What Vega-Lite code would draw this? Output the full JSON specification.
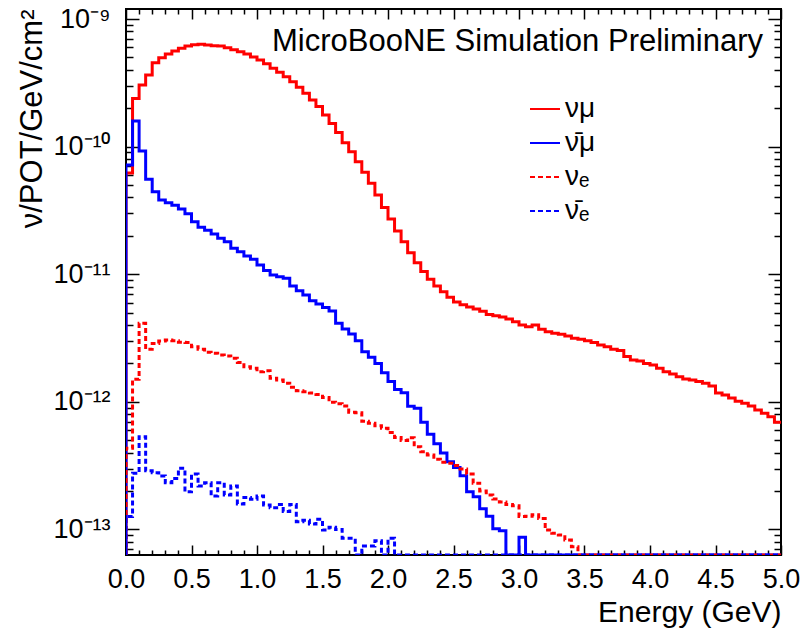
{
  "$schema": "https://vega.github.io/schema/vega-lite/v6.json",
  "width": 655,
  "height": 546,
  "autosize": {"type": "none"},
  "padding": {"left": 126, "top": 9, "right": 20, "bottom": 78},
  "background": "white",
  "config": {
    "font": "Liberation Sans",
    "view": {"stroke": "#000", "strokeWidth": 2},
    "axis": {"labelFont": "Liberation Sans", "titleFont": "Liberation Sans", "labelColor": "#000", "titleColor": "#000", "tickColor": "#000", "tickWidth": 1.5, "domain": false, "grid": false, "titleFontWeight": "normal", "labelOverlap": false, "labelBound": false}
  },
  "title": {"text": "MicroBooNE Simulation Preliminary", "orient": "top", "anchor": "end", "frame": "group", "offset": -77, "baseline": "alphabetic", "dx": -18, "fontSize": 31, "fontWeight": "normal", "font": "Liberation Sans", "color": "#000"},
  "data": {"values": [
    {"E":0,"numu":6.3e-14,"numubar":6.3e-14,"nue":6.3e-14,"nuebar":6.3e-14},
    {"E":0,"numu":6.21e-11,"numubar":7.17e-11,"nue":4.32e-13,"nuebar":1.26e-13},
    {"E":0.05,"numu":2.38e-10,"numubar":1.59e-10,"nue":1.50e-12,"nuebar":2.75e-13},
    {"E":0.1,"numu":3.04e-10,"numubar":9.24e-11,"nue":4.12e-12,"nuebar":5.33e-13},
    {"E":0.15,"numu":3.64e-10,"numubar":5.54e-11,"nue":2.58e-12,"nuebar":2.88e-13},
    {"E":0.2,"numu":4.55e-10,"numubar":4.43e-11,"nue":2.87e-12,"nuebar":2.78e-13},
    {"E":0.25,"numu":4.97e-10,"numubar":3.82e-11,"nue":3.00e-12,"nuebar":2.62e-13},
    {"E":0.3,"numu":5.32e-10,"numubar":3.63e-11,"nue":3.05e-12,"nuebar":2.32e-13},
    {"E":0.35,"numu":5.61e-10,"numubar":3.47e-11,"nue":3.01e-12,"nuebar":2.51e-13},
    {"E":0.4,"numu":5.89e-10,"numubar":3.24e-11,"nue":2.93e-12,"nuebar":3.01e-13},
    {"E":0.45,"numu":6.14e-10,"numubar":2.98e-11,"nue":2.91e-12,"nuebar":1.97e-13},
    {"E":0.5,"numu":6.29e-10,"numubar":2.58e-11,"nue":2.70e-12,"nuebar":2.72e-13},
    {"E":0.55,"numu":6.33e-10,"numubar":2.33e-11,"nue":2.58e-12,"nuebar":2.19e-13},
    {"E":0.6,"numu":6.25e-10,"numubar":2.21e-11,"nue":2.44e-12,"nuebar":2.32e-13},
    {"E":0.65,"numu":6.18e-10,"numubar":2.07e-11,"nue":2.40e-12,"nuebar":1.83e-13},
    {"E":0.7,"numu":6.14e-10,"numubar":1.91e-11,"nue":2.33e-12,"nuebar":2.32e-13},
    {"E":0.75,"numu":5.96e-10,"numubar":1.80e-11,"nue":2.29e-12,"nuebar":1.86e-13},
    {"E":0.8,"numu":5.75e-10,"numubar":1.60e-11,"nue":2.19e-12,"nuebar":2.19e-13},
    {"E":0.85,"numu":5.54e-10,"numubar":1.50e-11,"nue":2.03e-12,"nuebar":1.58e-13},
    {"E":0.9,"numu":5.32e-10,"numubar":1.39e-11,"nue":1.88e-12,"nuebar":1.78e-13},
    {"E":0.95,"numu":5.04e-10,"numubar":1.31e-11,"nue":1.83e-12,"nuebar":1.72e-13},
    {"E":1.0,"numu":4.77e-10,"numubar":1.18e-11,"nue":1.72e-12,"nuebar":1.83e-13},
    {"E":1.05,"numu":4.46e-10,"numubar":1.07e-11,"nue":1.75e-12,"nuebar":1.55e-13},
    {"E":1.1,"numu":4.11e-10,"numubar":9.86e-12,"nue":1.53e-12,"nuebar":1.48e-13},
    {"E":1.15,"numu":3.82e-10,"numubar":9.56e-12,"nue":1.48e-12,"nuebar":1.57e-13},
    {"E":1.2,"numu":3.53e-10,"numubar":9.29e-12,"nue":1.40e-12,"nuebar":1.38e-13},
    {"E":1.25,"numu":3.23e-10,"numubar":8.08e-12,"nue":1.30e-12,"nuebar":1.57e-13},
    {"E":1.3,"numu":2.92e-10,"numubar":7.43e-12,"nue":1.22e-12,"nuebar":1.15e-13},
    {"E":1.35,"numu":2.62e-10,"numubar":6.87e-12,"nue":1.20e-12,"nuebar":1.18e-13},
    {"E":1.4,"numu":2.32e-10,"numubar":6.20e-12,"nue":1.17e-12,"nuebar":1.10e-13},
    {"E":1.45,"numu":2.06e-10,"numubar":5.84e-12,"nue":1.14e-12,"nuebar":1.20e-13},
    {"E":1.5,"numu":1.77e-10,"numubar":5.48e-12,"nue":1.08e-12,"nuebar":9.89e-14},
    {"E":1.55,"numu":1.52e-10,"numubar":5.15e-12,"nue":9.93e-13,"nuebar":1.04e-13},
    {"E":1.6,"numu":1.29e-10,"numubar":4.12e-12,"nue":9.66e-13,"nuebar":1.00e-13},
    {"E":1.65,"numu":1.07e-10,"numubar":3.72e-12,"nue":9.27e-13,"nuebar":8.51e-14},
    {"E":1.7,"numu":9.12e-11,"numubar":3.40e-12,"nue":8.29e-13,"nuebar":8.51e-14},
    {"E":1.75,"numu":7.61e-11,"numubar":3.01e-12,"nue":8.22e-13,"nuebar":6.3e-14},
    {"E":1.8,"numu":6.29e-11,"numubar":2.47e-12,"nue":7.05e-13,"nuebar":7.41e-14},
    {"E":1.85,"numu":5.16e-11,"numubar":2.23e-12,"nue":6.79e-13,"nuebar":7.41e-14},
    {"E":1.9,"numu":4.18e-11,"numubar":2.00e-12,"nue":6.50e-13,"nuebar":8.16e-14},
    {"E":1.95,"numu":3.34e-11,"numubar":1.69e-12,"nue":6.20e-13,"nuebar":6.3e-14},
    {"E":2.0,"numu":2.71e-11,"numubar":1.44e-12,"nue":5.75e-13,"nuebar":8.51e-14},
    {"E":2.05,"numu":2.18e-11,"numubar":1.25e-12,"nue":5.25e-13,"nuebar":6.3e-14},
    {"E":2.1,"numu":1.80e-11,"numubar":1.18e-12,"nue":4.97e-13,"nuebar":6.3e-14},
    {"E":2.15,"numu":1.47e-11,"numubar":9.22e-13,"nue":5.23e-13,"nuebar":6.3e-14},
    {"E":2.2,"numu":1.23e-11,"numubar":8.89e-13,"nue":4.45e-13,"nuebar":6.3e-14},
    {"E":2.25,"numu":1.05e-11,"numubar":6.92e-13,"nue":4.06e-13,"nuebar":6.3e-14},
    {"E":2.3,"numu":9.12e-12,"numubar":5.57e-13,"nue":3.83e-13,"nuebar":6.3e-14},
    {"E":2.35,"numu":8.08e-12,"numubar":4.69e-13,"nue":3.54e-13,"nuebar":6.3e-14},
    {"E":2.4,"numu":7.29e-12,"numubar":3.97e-13,"nue":3.36e-13,"nuebar":6.3e-14},
    {"E":2.45,"numu":6.59e-12,"numubar":3.39e-13,"nue":3.30e-13,"nuebar":6.3e-14},
    {"E":2.5,"numu":6.05e-12,"numubar":3.06e-13,"nue":3.17e-13,"nuebar":6.3e-14},
    {"E":2.55,"numu":5.77e-12,"numubar":2.63e-13,"nue":2.97e-13,"nuebar":6.3e-14},
    {"E":2.6,"numu":5.53e-12,"numubar":1.97e-13,"nue":2.72e-13,"nuebar":6.3e-14},
    {"E":2.65,"numu":5.34e-12,"numubar":1.80e-13,"nue":2.30e-13,"nuebar":6.3e-14},
    {"E":2.7,"numu":5.12e-12,"numubar":1.45e-13,"nue":2.00e-13,"nuebar":6.3e-14},
    {"E":2.75,"numu":4.83e-12,"numubar":1.27e-13,"nue":1.86e-13,"nuebar":6.3e-14},
    {"E":2.8,"numu":4.73e-12,"numubar":1.01e-13,"nue":1.73e-13,"nuebar":6.3e-14},
    {"E":2.85,"numu":4.62e-12,"numubar":9.77e-14,"nue":1.64e-13,"nuebar":6.3e-14},
    {"E":2.9,"numu":4.46e-12,"numubar":6.3e-14,"nue":1.57e-13,"nuebar":6.3e-14},
    {"E":2.95,"numu":4.24e-12,"numubar":6.3e-14,"nue":1.53e-13,"nuebar":6.3e-14},
    {"E":3.0,"numu":4.00e-12,"numubar":8.67e-14,"nue":1.26e-13,"nuebar":6.3e-14},
    {"E":3.05,"numu":3.88e-12,"numubar":6.3e-14,"nue":1.27e-13,"nuebar":6.3e-14},
    {"E":3.1,"numu":4.00e-12,"numubar":6.3e-14,"nue":1.30e-13,"nuebar":6.3e-14},
    {"E":3.15,"numu":3.70e-12,"numubar":6.3e-14,"nue":1.22e-13,"nuebar":6.3e-14},
    {"E":3.2,"numu":3.54e-12,"numubar":6.3e-14,"nue":9.89e-14,"nuebar":6.3e-14},
    {"E":3.25,"numu":3.44e-12,"numubar":6.3e-14,"nue":9.32e-14,"nuebar":6.3e-14},
    {"E":3.3,"numu":3.38e-12,"numubar":6.3e-14,"nue":9.04e-14,"nuebar":6.3e-14},
    {"E":3.35,"numu":3.28e-12,"numubar":6.3e-14,"nue":8.26e-14,"nuebar":6.3e-14},
    {"E":3.4,"numu":3.15e-12,"numubar":6.3e-14,"nue":7.32e-14,"nuebar":6.3e-14},
    {"E":3.45,"numu":3.09e-12,"numubar":6.3e-14,"nue":6.3e-14,"nuebar":6.3e-14},
    {"E":3.5,"numu":3.01e-12,"numubar":6.3e-14,"nue":6.3e-14,"nuebar":6.3e-14},
    {"E":3.55,"numu":2.91e-12,"numubar":6.3e-14,"nue":6.3e-14,"nuebar":6.3e-14},
    {"E":3.6,"numu":2.79e-12,"numubar":6.3e-14,"nue":6.3e-14,"nuebar":6.3e-14},
    {"E":3.65,"numu":2.70e-12,"numubar":6.3e-14,"nue":6.3e-14,"nuebar":6.3e-14},
    {"E":3.7,"numu":2.58e-12,"numubar":6.3e-14,"nue":6.3e-14,"nuebar":6.3e-14},
    {"E":3.75,"numu":2.52e-12,"numubar":6.3e-14,"nue":6.3e-14,"nuebar":6.3e-14},
    {"E":3.8,"numu":2.26e-12,"numubar":6.3e-14,"nue":6.3e-14,"nuebar":6.3e-14},
    {"E":3.85,"numu":2.13e-12,"numubar":6.3e-14,"nue":6.3e-14,"nuebar":6.3e-14},
    {"E":3.9,"numu":2.09e-12,"numubar":6.3e-14,"nue":6.3e-14,"nuebar":6.3e-14},
    {"E":3.95,"numu":2.00e-12,"numubar":6.3e-14,"nue":6.3e-14,"nuebar":6.3e-14},
    {"E":4.0,"numu":1.94e-12,"numubar":6.3e-14,"nue":6.3e-14,"nuebar":6.3e-14},
    {"E":4.05,"numu":1.83e-12,"numubar":6.3e-14,"nue":6.3e-14,"nuebar":6.3e-14},
    {"E":4.1,"numu":1.72e-12,"numubar":6.3e-14,"nue":6.3e-14,"nuebar":6.3e-14},
    {"E":4.15,"numu":1.65e-12,"numubar":6.3e-14,"nue":6.3e-14,"nuebar":6.3e-14},
    {"E":4.2,"numu":1.57e-12,"numubar":6.3e-14,"nue":6.3e-14,"nuebar":6.3e-14},
    {"E":4.25,"numu":1.51e-12,"numubar":6.3e-14,"nue":6.3e-14,"nuebar":6.3e-14},
    {"E":4.3,"numu":1.48e-12,"numubar":6.3e-14,"nue":6.3e-14,"nuebar":6.3e-14},
    {"E":4.35,"numu":1.44e-12,"numubar":6.3e-14,"nue":6.3e-14,"nuebar":6.3e-14},
    {"E":4.4,"numu":1.40e-12,"numubar":6.3e-14,"nue":6.3e-14,"nuebar":6.3e-14},
    {"E":4.45,"numu":1.33e-12,"numubar":6.3e-14,"nue":6.3e-14,"nuebar":6.3e-14},
    {"E":4.5,"numu":1.17e-12,"numubar":6.3e-14,"nue":6.3e-14,"nuebar":6.3e-14},
    {"E":4.55,"numu":1.13e-12,"numubar":6.3e-14,"nue":6.3e-14,"nuebar":6.3e-14},
    {"E":4.6,"numu":1.07e-12,"numubar":6.3e-14,"nue":6.3e-14,"nuebar":6.3e-14},
    {"E":4.65,"numu":1.01e-12,"numubar":6.3e-14,"nue":6.3e-14,"nuebar":6.3e-14},
    {"E":4.7,"numu":9.73e-13,"numubar":6.3e-14,"nue":6.3e-14,"nuebar":6.3e-14},
    {"E":4.75,"numu":9.27e-13,"numubar":6.3e-14,"nue":6.3e-14,"nuebar":6.3e-14},
    {"E":4.8,"numu":8.62e-13,"numubar":6.3e-14,"nue":6.3e-14,"nuebar":6.3e-14},
    {"E":4.85,"numu":8.13e-13,"numubar":6.3e-14,"nue":6.3e-14,"nuebar":6.3e-14},
    {"E":4.9,"numu":7.64e-13,"numubar":6.3e-14,"nue":6.3e-14,"nuebar":6.3e-14},
    {"E":4.95,"numu":6.91e-13,"numubar":6.3e-14,"nue":6.3e-14,"nuebar":6.3e-14},
    {"E":5.0,"numu":6.91e-13,"numubar":6.3e-14,"nue":6.3e-14,"nuebar":6.3e-14}
  ]},
  "transform": [{"fold": ["numu", "numubar", "nue", "nuebar"], "as": ["s", "v"]}],
  "layer": [
    {
      "mark": {"type": "line", "interpolate": "step-after", "strokeWidth": 3, "clip": true},
      "encoding": {
        "x": {"field": "E", "type": "quantitative",
          "scale": {"domain": [0, 5], "nice": false, "zero": false},
          "axis": {"orient": "bottom",
            "values": [0,0.1,0.2,0.3,0.4,0.5,0.6,0.7,0.8,0.9,1,1.1,1.2,1.3,1.4,1.5,1.6,1.7,1.8,1.9,2,2.1,2.2,2.3,2.4,2.5,2.6,2.7,2.8,2.9,3,3.1,3.2,3.3,3.4,3.5,3.6,3.7,3.8,3.9,4,4.1,4.2,4.3,4.4,4.5,4.6,4.7,4.8,4.9,5],
            "labelExpr": "abs(datum.value*2 - round(datum.value*2)) < 0.001 ? format(datum.value, '.1f') : ''",
            "tickSize": {"condition": {"test": "abs(datum.value*2 - round(datum.value*2)) < 0.001", "value": -10}, "value": -5},
            "labelPadding": 21, "labelFontSize": 27, "labelFlush": false,
            "title": "Energy (GeV)", "titleAnchor": "end", "titleFontSize": 30, "titlePadding": 0}},
        "y": {"field": "v", "type": "quantitative",
          "scale": {"type": "log", "domain": [6.3e-14, 1.198e-9], "nice": false},
          "axis": {"orient": "left",
            "values": [7e-14,8e-14,9e-14,1e-13,2e-13,3e-13,4e-13,5e-13,6e-13,7e-13,8e-13,9e-13,1e-12,2e-12,3e-12,4e-12,5e-12,6e-12,7e-12,8e-12,9e-12,1e-11,2e-11,3e-11,4e-11,5e-11,6e-11,7e-11,8e-11,9e-11,1e-10,2e-10,3e-10,4e-10,5e-10,6e-10,7e-10,8e-10,9e-10,1e-9],
            "labelExpr": "abs(log(datum.value)/LN10 - round(log(datum.value)/LN10)) < 0.001 ? (round(log(datum.value)/LN10) == -9 ? '10⁻⁹' : round(log(datum.value)/LN10) == -10 ? '10⁻¹⁰' : round(log(datum.value)/LN10) == -11 ? '10⁻¹¹' : round(log(datum.value)/LN10) == -12 ? '10⁻¹²' : '10⁻¹³') : ''",
            "tickSize": {"condition": {"test": "abs(log(datum.value)/LN10 - round(log(datum.value)/LN10)) < 0.001", "value": -13}, "value": -7},
            "labelPadding": 29, "labelFontSize": 27,
            "title": "ν/POT/GeV/cm²", "titleAnchor": "end", "titleFontSize": 31, "titlePadding": 4}},
        "color": {"field": "s", "type": "nominal",
          "scale": {"domain": ["numu", "numubar", "nue", "nuebar"], "range": ["#ff0000", "#0000ff", "#ff0000", "#0000ff"]},
          "legend": {"orient": "none", "legendX": 403, "legendY": 84, "title": null, "padding": 0,
            "symbolType": "stroke", "symbolSize": 900, "symbolStrokeWidth": 2,
            "labelFontSize": 28, "labelFont": "Liberation Sans", "labelColor": "#000", "labelOffset": 4, "rowPadding": 4,
            "labelExpr": "datum.label == 'numu' ? 'νμ' : datum.label == 'numubar' ? 'ν̄μ' : datum.label == 'nue' ? 'νₑ' : 'ν̄ₑ'"}},
        "strokeDash": {"field": "s", "type": "nominal",
          "scale": {"domain": ["numu", "numubar", "nue", "nuebar"], "range": [[1, 0], [1, 0], [5, 3], [5, 3]]},
          "legend": {"orient": "none", "legendX": 403, "legendY": 84, "title": null, "padding": 0,
            "symbolType": "stroke", "symbolSize": 900, "symbolStrokeWidth": 2,
            "labelFontSize": 28, "labelFont": "Liberation Sans", "labelColor": "#000", "labelOffset": 4, "rowPadding": 4,
            "labelExpr": "datum.label == 'numu' ? 'νμ' : datum.label == 'numubar' ? 'ν̄μ' : datum.label == 'nue' ? 'νₑ' : 'ν̄ₑ'"}}
      }
    },
    {
      "mark": {"type": "line", "strokeOpacity": 0},
      "encoding": {
        "detail": {"field": "s"},
        "x": {"field": "E", "type": "quantitative",
          "scale": {"domain": [0, 5], "nice": false, "zero": false},
          "axis": {"orient": "top", "labels": false, "title": null,
            "values": [0,0.1,0.2,0.3,0.4,0.5,0.6,0.7,0.8,0.9,1,1.1,1.2,1.3,1.4,1.5,1.6,1.7,1.8,1.9,2,2.1,2.2,2.3,2.4,2.5,2.6,2.7,2.8,2.9,3,3.1,3.2,3.3,3.4,3.5,3.6,3.7,3.8,3.9,4,4.1,4.2,4.3,4.4,4.5,4.6,4.7,4.8,4.9,5],
            "tickSize": {"condition": {"test": "abs(datum.value*2 - round(datum.value*2)) < 0.001", "value": -10}, "value": -5}}},
        "y": {"field": "v", "type": "quantitative",
          "scale": {"type": "log", "domain": [6.3e-14, 1.198e-9], "nice": false},
          "axis": {"orient": "right", "labels": false, "title": null,
            "values": [7e-14,8e-14,9e-14,1e-13,2e-13,3e-13,4e-13,5e-13,6e-13,7e-13,8e-13,9e-13,1e-12,2e-12,3e-12,4e-12,5e-12,6e-12,7e-12,8e-12,9e-12,1e-11,2e-11,3e-11,4e-11,5e-11,6e-11,7e-11,8e-11,9e-11,1e-10,2e-10,3e-10,4e-10,5e-10,6e-10,7e-10,8e-10,9e-10,1e-9],
            "tickSize": {"condition": {"test": "abs(log(datum.value)/LN10 - round(log(datum.value)/LN10)) < 0.001", "value": -13}, "value": -7}}}
      }
    }
  ],
  "resolve": {"axis": {"x": "independent", "y": "independent"}}
}
